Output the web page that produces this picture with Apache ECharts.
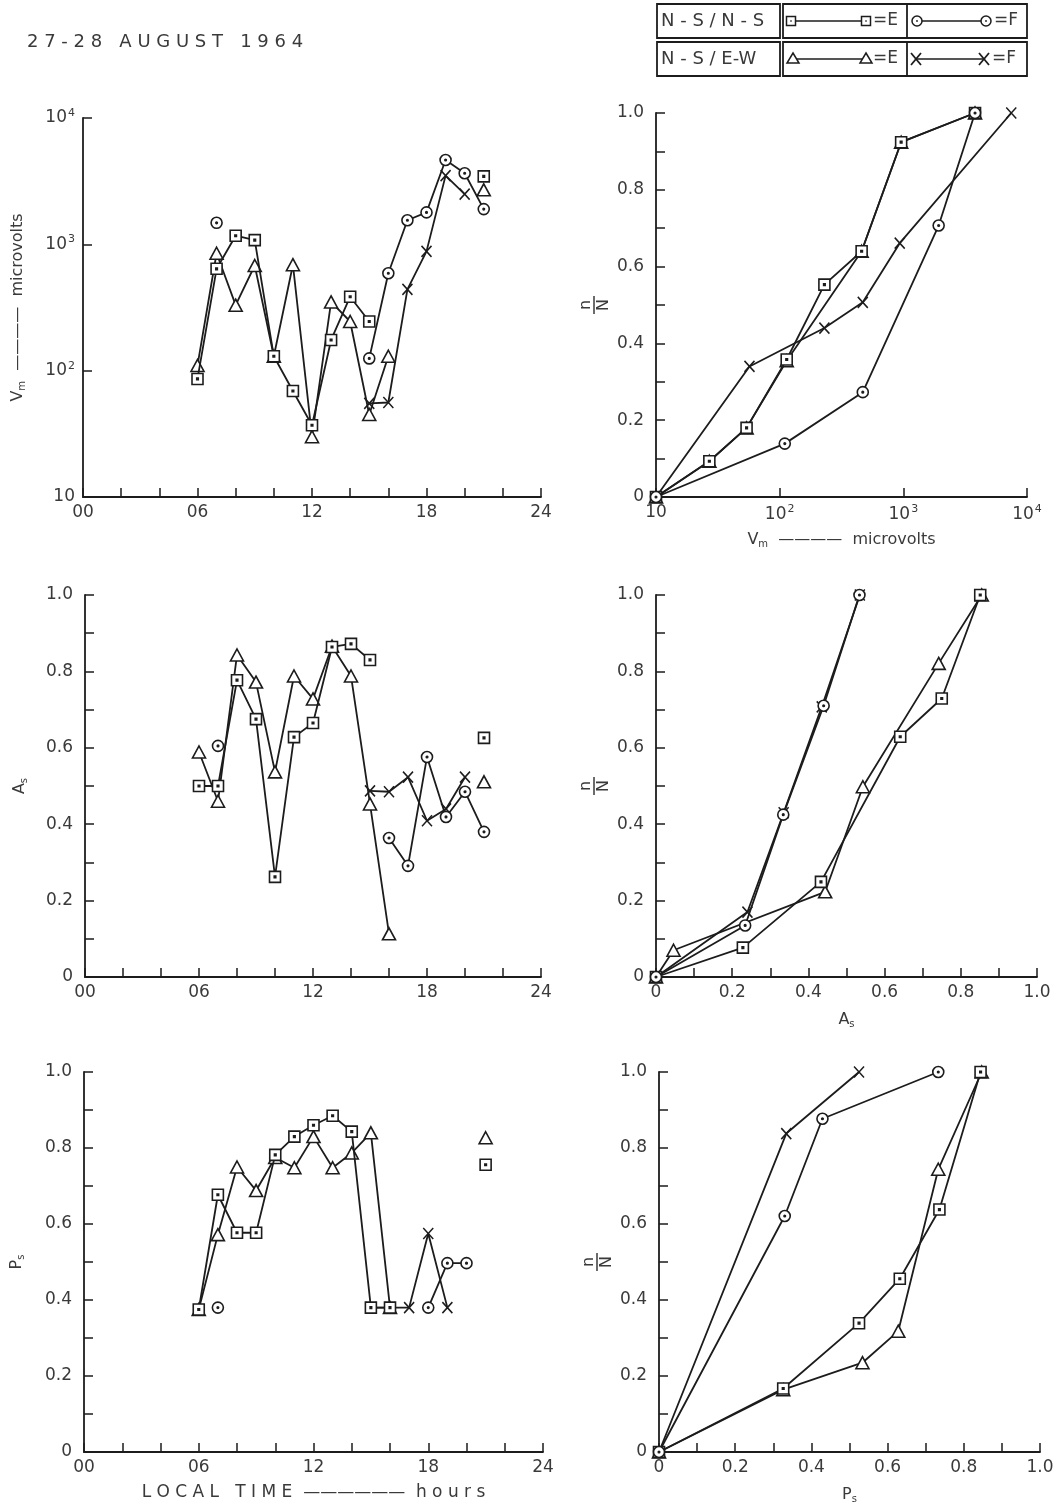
<!DOCTYPE html>
<html>
<head>
<meta charset="utf-8">
<script src="https://cdn.jsdelivr.net/npm/echarts@6/dist/echarts.min.js"></script>
<style>
html,body{margin:0;padding:0;background:#fff;}
#c{width:1060px;height:1507px;}
</style>
</head>
<body>
<div id="c"></div>
<script>
// ---------- DATA ----------
// Local time (hours) for left-hand panels
const hours = [6,7,8,9,10,11,12,13,14,15,16,17,18,19,20,21];
// Vm (microvolts) vs local time
const vmNSNS_E = [86,640,1170,1080,130,69,37,175,385,245,null,null,null,null,null,3450];
const vmNSNS_F = [null,1480,null,null,null,null,null,null,null,125,590,1550,1790,4650,3650,1900];
const vmNSEW_E = [110,850,330,680,130,690,30,350,245,45,130,null,null,null,null,2700];
const vmNSEW_F = [null,null,null,null,null,null,null,null,null,55,56,440,880,3500,2500,null];
// As vs local time
const asNSNS_E = [0.50,0.50,0.777,0.675,0.262,0.628,0.665,0.864,0.872,0.83,null,null,null,null,null,0.626];
const asNSNS_F = [null,0.605,null,null,null,null,null,null,null,null,0.364,0.291,0.576,0.419,0.485,0.38];
const asNSEW_E = [0.589,0.46,0.843,0.772,0.537,0.788,0.728,0.866,0.788,0.453,0.113,null,null,null,null,0.511];
const asNSEW_F = [null,null,null,null,null,null,null,null,null,0.487,0.485,0.523,0.409,0.44,0.523,null];
// Ps vs local time
const psNSNS_E = [0.375,0.677,0.577,0.577,0.782,0.83,0.86,0.885,0.843,0.38,0.38,null,null,null,null,0.756];
const psNSNS_F = [null,0.38,null,null,null,null,null,null,null,null,null,null,0.38,0.497,0.497,null];
const psNSEW_E = [0.375,0.572,0.75,0.688,0.775,0.748,0.83,0.748,0.787,0.84,0.38,null,null,null,null,0.827];
const psNSEW_F = [null,null,null,null,null,null,null,null,null,0.38,0.38,0.38,0.575,0.38,null,null];

// Cumulative n/N vs Vm
const cvSqX = [10,27,54,114,230,460,960,3800];
const cvSqY = [0,0.093,0.18,0.358,0.553,0.64,0.924,1.0];
const cvCiX = [10,110,470,1930,3800];
const cvCiY = [0,0.139,0.273,0.707,1.0];
const cvTrX = [10,27,54,114,460,960,3800];
const cvTrY = [0,0.093,0.18,0.355,0.64,0.924,1.0];
const cvXX  = [10,57,230,470,935,7460];
const cvXY  = [0,0.34,0.44,0.507,0.661,1.0];
// Cumulative n/N vs As
const caSqX = [0,0.228,0.433,0.641,0.75,0.851];
const caSqY = [0,0.077,0.249,0.629,0.729,1.0];
const caCiX = [0,0.234,0.334,0.44,0.534];
const caCiY = [0,0.135,0.425,0.71,1.0];
const caTrX = [0,0.046,0.444,0.543,0.742,0.855];
const caTrY = [0,0.07,0.223,0.498,0.821,1.0];
const caXX  = [0,0.24,0.335,0.435,0.535];
const caXY  = [0,0.17,0.43,0.707,1.0];
// Cumulative n/N vs Ps
const cpSqX = [0,0.326,0.525,0.632,0.736,0.844];
const cpSqY = [0,0.167,0.339,0.456,0.638,1.0];
const cpCiX = [0,0.33,0.429,0.733];
const cpCiY = [0,0.621,0.877,1.0];
const cpTrX = [0,0.326,0.534,0.628,0.733,0.847];
const cpTrY = [0,0.164,0.235,0.318,0.744,1.0];
const cpXX  = [0,0.334,0.525];
const cpXY  = [0,0.838,1.0];

const timeTicks = ['00','06','12','18','24'];

// ---------- STYLE ----------
const INK = '#1c1c1c';
const TXT = '#3a3a3a';
const FONT = 'DejaVu Sans';
const SQ = 'path://M0,0H10V10H0Z M4.3,4.3H5.7V5.7H4.3Z';
const CI = 'path://M5,0A5,5 0 1,1 5,10A5,5 0 1,1 5,0Z M5,4.3A0.7,0.7 0 1,1 5,5.7A0.7,0.7 0 1,1 5,4.3Z';
const XS = 'path://M0,0L10,10M10,0L0,10';
const TR = 'path://M5,0L10,9L0,9Z';

function pairs(xs, ys){ return xs.map((x,i)=>[x, ys[i]==null?'-':ys[i]]); }
function ser(data, idx, sym, size, z){
  return {
    type:'line', data, xAxisIndex:idx, yAxisIndex:idx,
    symbol:sym, symbolSize:size, showSymbol:true, showAllSymbol:true,
    connectNulls:false, animation:false, silent:true, z:z,
    lineStyle:{color:INK,width:1.8},
    itemStyle:{color:(sym===XS?INK:'#fff'), borderColor:INK, borderWidth:1.6},
    emphasis:{disabled:true}
  };
}
function fourSeries(idx, sq, ci, tr, xx){
  return [
    ser(xx, idx, XS, [10,11], 3),
    ser(tr, idx, TR, [13,12], 4),
    ser(sq, idx, SQ, [11,11], 5),
    ser(ci, idx, CI, [11,11], 6)
  ];
}
const axLine = {show:true, lineStyle:{color:INK,width:1.8}};
const tick = {show:true, inside:true, length:9, lineStyle:{color:INK,width:1.5}};
const lblBase = {color:TXT, fontFamily:FONT, fontSize:17};
const tenth = v => Math.round(v*10);
const fracLabel = v => (tenth(v)%2===0 ? (tenth(v)===0?'0':(tenth(v)/10).toFixed(1)) : '');
const logLabel = v => { const e = Math.round(Math.log10(v)); return e===1 ? '{b|10}' : '{b|10}{s|'+e+'}'; };
const logRich = {b:{fontSize:17,color:TXT,fontFamily:FONT}, s:{fontSize:11,color:TXT,fontFamily:FONT,padding:[0,0,10,1]}};
const nameRich = {
  v:{fontSize:16,color:TXT,fontFamily:FONT},
  sub:{fontSize:10,color:TXT,fontFamily:FONT,padding:[8,0,0,0]}
};

function timeAxis(idx){
  return {type:'value', gridIndex:idx, min:0, max:24, interval:2,
    axisLine:axLine, axisTick:tick, splitLine:{show:false},
    axisLabel:Object.assign({}, lblBase, {margin:7, showMinLabel:true, showMaxLabel:true,
      formatter:v=> (v%6===0 ? timeTicks[v/6] : '')})};
}
function fracAxisY(idx){
  return {type:'value', gridIndex:idx, min:0, max:1, interval:0.1,
    axisLine:axLine, axisTick:tick, splitLine:{show:false},
    axisLabel:Object.assign({}, lblBase, {margin:12, formatter:fracLabel})};
}
function fracAxisX(idx, name){
  return {type:'value', gridIndex:idx, min:0, max:1, interval:0.1,
    axisLine:axLine, axisTick:tick, splitLine:{show:false},
    axisLabel:Object.assign({}, lblBase, {margin:7, formatter:fracLabel}),
    name:name, nameLocation:'middle', nameGap:34, nameTextStyle:{rich:nameRich}};
}

const grids = [
  {left:83, top:118, width:458, height:379},
  {left:656, top:113, width:371, height:384},
  {left:85, top:595, width:456, height:382},
  {left:656, top:595, width:381, height:382},
  {left:84, top:1072, width:459, height:380},
  {left:659, top:1072, width:381, height:380}
];

const xAxes = [
  timeAxis(0),
  {type:'log', gridIndex:1, min:10, max:10000, logBase:10,
    axisLine:axLine, axisTick:tick, splitLine:{show:false},
    axisLabel:{margin:7, formatter:logLabel, rich:logRich},
    name:'{v|V}{sub|m}{v|  ————  microvolts}', nameLocation:'middle', nameGap:34, nameTextStyle:{rich:nameRich}},
  timeAxis(2),
  fracAxisX(3, '{v|A}{sub|s}'),
  Object.assign(timeAxis(4), {name:'{v|L O C A L   T I M E  ——————  h o u r s}', nameLocation:'middle', nameGap:32,
    nameTextStyle:{rich:{v:{fontSize:17,color:TXT,fontFamily:FONT}}}}),
  fracAxisX(5, '{v|P}{sub|s}')
];
const yAxes = [
  {type:'log', gridIndex:0, min:10, max:10000, logBase:10,
    axisLine:axLine, axisTick:tick, splitLine:{show:false},
    axisLabel:{margin:8, formatter:logLabel, rich:logRich},
    name:'{v|V}{sub|m}{v|  ————  microvolts}', nameLocation:'middle', nameRotate:90, nameGap:56, nameTextStyle:{rich:nameRich}},
  fracAxisY(1),
  Object.assign(fracAxisY(2), {name:'{v|A}{sub|s}', nameLocation:'middle', nameRotate:90, nameGap:56, nameTextStyle:{rich:nameRich}}),
  fracAxisY(3),
  Object.assign(fracAxisY(4), {name:'{v|P}{sub|s}', nameLocation:'middle', nameRotate:90, nameGap:58, nameTextStyle:{rich:nameRich}}),
  fracAxisY(5)
];

const series = [].concat(
  fourSeries(0, pairs(hours,vmNSNS_E), pairs(hours,vmNSNS_F), pairs(hours,vmNSEW_E), pairs(hours,vmNSEW_F)),
  fourSeries(1, pairs(cvSqX,cvSqY), pairs(cvCiX,cvCiY), pairs(cvTrX,cvTrY), pairs(cvXX,cvXY)),
  fourSeries(2, pairs(hours,asNSNS_E), pairs(hours,asNSNS_F), pairs(hours,asNSEW_E), pairs(hours,asNSEW_F)),
  fourSeries(3, pairs(caSqX,caSqY), pairs(caCiX,caCiY), pairs(caTrX,caTrY), pairs(caXX,caXY)),
  fourSeries(4, pairs(hours,psNSNS_E), pairs(hours,psNSNS_F), pairs(hours,psNSEW_E), pairs(hours,psNSEW_F)),
  fourSeries(5, pairs(cpSqX,cpSqY), pairs(cpCiX,cpCiY), pairs(cpTrX,cpTrY), pairs(cpXX,cpXY))
);

// ---------- LEGEND TABLE + TITLE + n/N labels (graphic) ----------
const ls = {stroke:INK, lineWidth:1.8, fill:'none'};
const sym = {stroke:INK, lineWidth:1.5, fill:'#fff'};
function sqG(cx,cy){ return [
  {type:'rect', shape:{x:cx-4.5,y:cy-4.5,width:9,height:9}, style:sym, z:5},
  {type:'rect', shape:{x:cx-0.7,y:cy-0.7,width:1.4,height:1.4}, style:{fill:INK}, z:6}]; }
function ciG(cx,cy){ return [
  {type:'circle', shape:{cx,cy,r:5}, style:sym, z:5},
  {type:'circle', shape:{cx,cy,r:0.9}, style:{fill:INK}, z:6}]; }
function trG(cx,cy){ return [
  {type:'polygon', shape:{points:[[cx,cy-6],[cx+6,cy+4],[cx-6,cy+4]]}, style:sym, z:5}]; }
function xG(cx,cy){ return [
  {type:'line', shape:{x1:cx-5,y1:cy-6,x2:cx+5,y2:cy+6}, style:{stroke:INK,lineWidth:1.8}, z:5},
  {type:'line', shape:{x1:cx+5,y1:cy-6,x2:cx-5,y2:cy+6}, style:{stroke:INK,lineWidth:1.8}, z:5}]; }
function seg(x1,x2,y){ return {type:'line', shape:{x1,y1:y,x2,y2:y}, style:{stroke:INK,lineWidth:1.6}, z:4}; }
function txt(x,y,t,size){ return {type:'text', x, y, style:{text:t, fill:TXT, font:(size||16)+'px "'+FONT+'"', verticalAlign:'middle'}, z:5}; }
// rotated fraction n/N beside each right-hand y axis
function nN(g){
  const cx = g.left - 62, cy = g.top + g.height/2;
  return [
    {type:'text', x:cx, y:cy, rotation:Math.PI/2, style:{text:'n', fill:TXT, font:'16px "'+FONT+'"', align:'center', verticalAlign:'bottom'}, z:5},
    {type:'text', x:cx+2, y:cy, rotation:Math.PI/2, style:{text:'N', fill:TXT, font:'16px "'+FONT+'"', align:'center', verticalAlign:'top'}, z:5},
    {type:'line', shape:{x1:cx, y1:cy-9, x2:cx, y2:cy+9}, style:{stroke:TXT, lineWidth:1.5}, z:5}
  ];
}

const r1 = 21, r2 = 59;
const graphics = [].concat(
  [
    {type:'rect', shape:{x:657,y:4,width:123,height:34}, style:ls},
    {type:'rect', shape:{x:783,y:4,width:244,height:34}, style:ls},
    {type:'line', shape:{x1:907,y1:4,x2:907,y2:38}, style:{stroke:INK,lineWidth:1.8}},
    {type:'rect', shape:{x:657,y:42,width:123,height:34}, style:ls},
    {type:'rect', shape:{x:783,y:42,width:244,height:34}, style:ls},
    {type:'line', shape:{x1:907,y1:42,x2:907,y2:76}, style:{stroke:INK,lineWidth:1.8}},
    txt(661, r1, 'N - S / N - S', 18),
    txt(661, r2, 'N - S / E-W', 18),
    seg(791,866,r1), txt(873, r1, '=E', 17),
    seg(917,986,r1), txt(994, r1, '=F', 17),
    seg(793,866,r2), txt(873, r2, '=E', 17),
    seg(916,984,r2), txt(992, r2, '=F', 17),
    txt(27, 42, '2 7 - 2 8   A U G U S T   1 9 6 4', 18)
  ],
  sqG(791,r1), sqG(866,r1), ciG(917,r1), ciG(986,r1),
  trG(793,r2), trG(866,r2), xG(916,r2), xG(984,r2),
  nN(grids[1]), nN(grids[3]), nN(grids[5])
);

const chart = echarts.init(document.getElementById('c'), null, {renderer:'canvas'});
chart.setOption({
  animation:false,
  backgroundColor:'#fff',
  grid:grids,
  xAxis:xAxes,
  yAxis:yAxes,
  series:series,
  graphic:graphics
});
</script>
</body>
</html>
